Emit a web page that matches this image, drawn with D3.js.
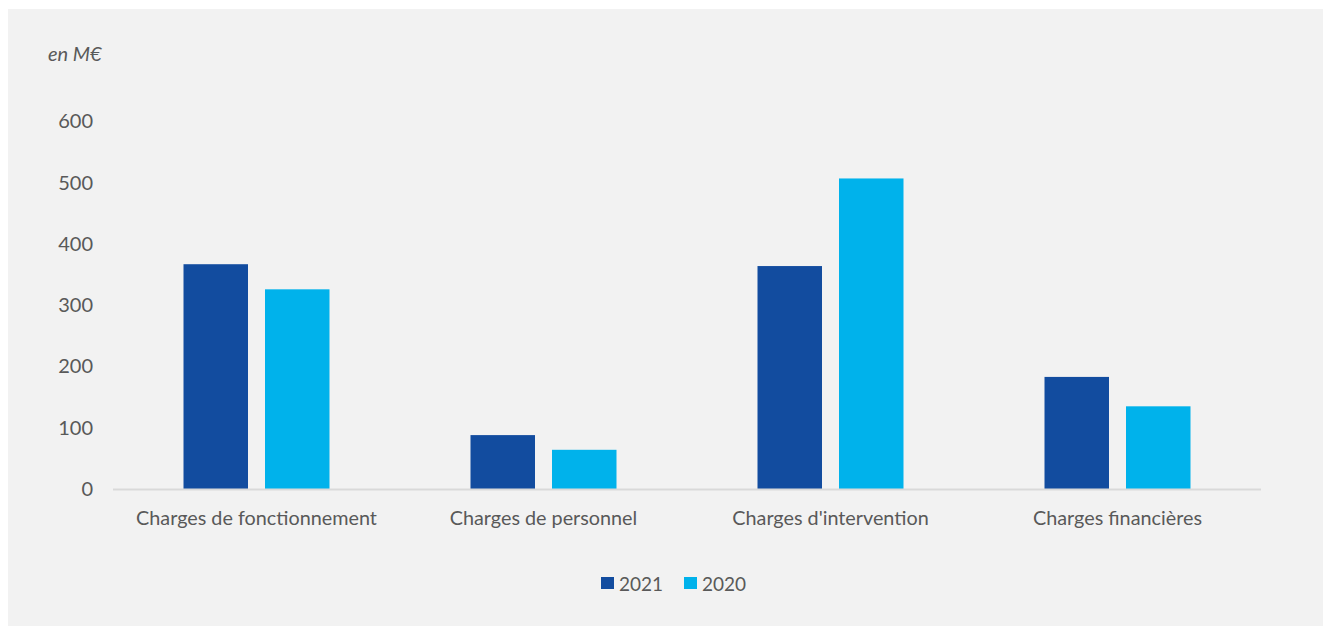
<!DOCTYPE html>
<html>
<head>
<meta charset="utf-8">
<script src="https://cdn.jsdelivr.net/npm/d3@7"></script>
<style>
  html, body { margin: 0; padding: 0; background: #ffffff; }
  svg { display: block; }
  text { font-family: Lato, "Open Sans", sans-serif; fill: #595959; }
</style>
</head>
<body>
<svg id="chart" width="1323" height="626"></svg>
<script>
// Expenses by category, in millions of euros
const categories = ["Charges de fonctionnement", "Charges de personnel", "Charges d'intervention", "Charges financières"];
const series = ["2021", "2020"];
const values2021 = [367, 88, 364, 183];
const values2020 = [326, 64, 507, 135];
const yTicks = [0, 100, 200, 300, 400, 500, 600];
const unitLabel = "en M€";

const colors = { "2021": "#124c9f", "2020": "#00b2eb" };
const seriesValues = { "2021": values2021, "2020": values2020 };

const svg = d3.select("#chart");
const W = 1323, H = 626;

// light grey panel behind the chart
svg.append("rect")
  .attr("x", 8).attr("y", 9)
  .attr("width", W - 8).attr("height", H - 9)
  .attr("fill", "#f2f2f2");

const plot = { left: 113, right: 1261, top: 121.5, bottom: 489 };
const groupWidth = 146;

const x = d3.scaleBand()
  .domain(categories)
  .range([plot.left, plot.right])
  .paddingInner(0)
  .paddingOuter(0);

const xInner = d3.scaleBand()
  .domain(series)
  .range([0, groupWidth])
  .paddingInner(0.2086)
  .paddingOuter(0);

const y = d3.scaleLinear()
  .domain([0, 600])
  .range([plot.bottom, plot.top]);

// bars
const groups = svg.append("g").selectAll("g")
  .data(categories)
  .join("g")
  .attr("transform", d => `translate(${x(d) + x.bandwidth() / 2 - groupWidth / 2},0)`);

groups.selectAll("rect")
  .data((d, i) => series.map(s => ({ s, v: seriesValues[s][i] })))
  .join("rect")
  .attr("x", d => xInner(d.s))
  .attr("width", xInner.bandwidth())
  .attr("y", d => y(d.v))
  .attr("height", d => y(0) - y(d.v))
  .attr("fill", d => colors[d.s]);

// baseline
svg.append("line")
  .attr("x1", plot.left).attr("x2", plot.right)
  .attr("y1", plot.bottom + 0.5).attr("y2", plot.bottom + 0.5)
  .attr("stroke", "#d9d9d9")
  .attr("stroke-width", 2);

// y axis labels
const yAxis = d3.axisLeft(y).tickValues(yTicks).tickSize(0).tickPadding(0);
const yG = svg.append("g")
  .attr("transform", `translate(93,0)`)
  .call(yAxis);
yG.select(".domain").remove();
yG.selectAll("text")
  .style("font-family", "Lato, 'Open Sans', sans-serif")
  .style("font-size", "20px")
  .attr("fill", "#595959");

// category labels
const xAxis = d3.axisBottom(x).tickSize(0).tickPadding(0);
const xG = svg.append("g")
  .attr("transform", `translate(0,${plot.bottom})`)
  .call(xAxis);
xG.select(".domain").remove();
xG.selectAll("text")
  .attr("dy", null)
  .attr("y", 28)
  .attr("dominant-baseline", "central")
  .style("font-family", "Lato, 'Open Sans', sans-serif")
  .style("font-size", "19.8px")
  .attr("fill", "#595959");

// unit label
svg.append("text")
  .attr("x", 48).attr("y", 53)
  .attr("dominant-baseline", "central")
  .style("font-style", "italic")
  .style("font-size", "20px")
  .text(unitLabel);

// legend
const legend = svg.append("g");
const legendX = [601, 684];
series.forEach((s, i) => {
  legend.append("rect")
    .attr("x", legendX[i]).attr("y", 577)
    .attr("width", 13).attr("height", 12)
    .attr("fill", colors[s]);
  legend.append("text")
    .attr("x", legendX[i] + 18).attr("y", 583)
    .attr("dominant-baseline", "central")
    .style("font-size", "19px")
    .text(s);
});
</script>
</body>
</html>
